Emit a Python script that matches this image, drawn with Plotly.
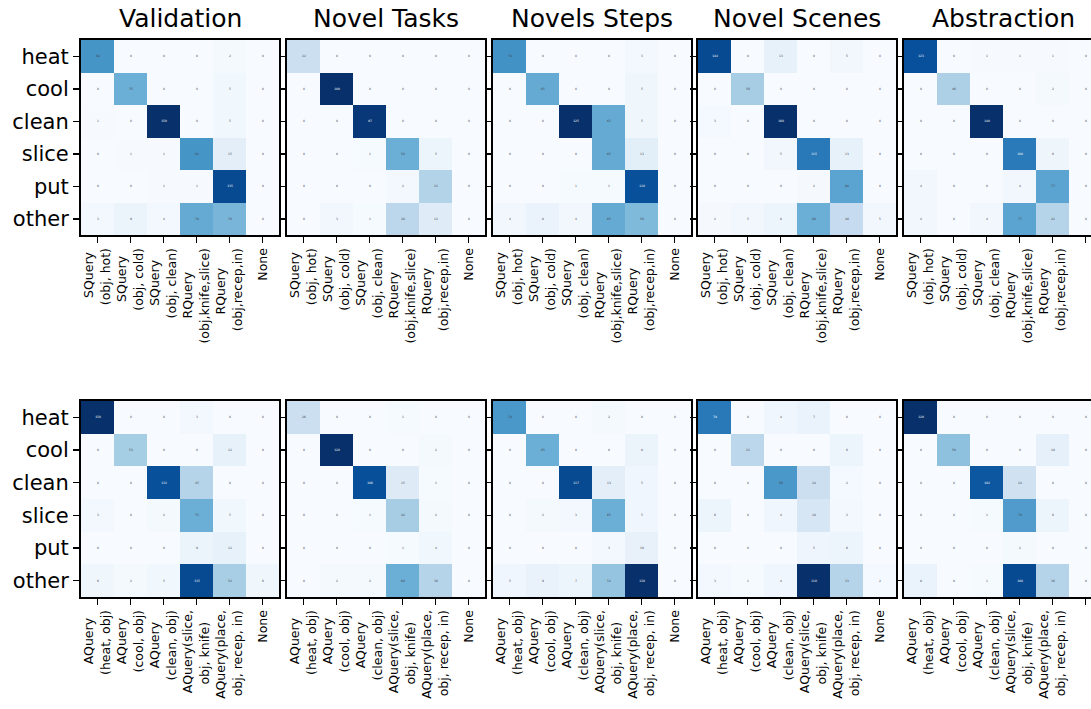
import plotly.graph_objects as go

# ---------------- data ----------------
row_labels = ["heat", "cool", "clean", "slice", "put", "other"]
titles = ["Validation", "Novel Tasks", "Novels Steps", "Novel Scenes", "Abstraction"]

# two-line x tick labels: (first line, second line)
top_xlabels = [("SQuery", "(obj, hot)"), ("SQuery", "(obj, cold)"), ("SQuery", "(obj, clean)"),
               ("RQuery", "(obj,knife,slice)"), ("RQuery", "(obj,recep,in)"), ("None", None)]
bot_xlabels = [("AQuery", "(heat, obj)"), ("AQuery", "(cool, obj)"), ("AQuery", "(clean, obj)"),
               ("AQuery(slice,", "obj, knife)"), ("AQuery(place,", "obj, recep, in)"), ("None", None)]

# top row (state queries)
top_validation = [[92, 0, 0, 0, 2, 0], [0, 75, 0, 0, 5, 0], [1, 0, 150, 0, 5, 0],
                  [0, 1, 1, 92, 15, 0], [0, 0, 1, 1, 135, 0], [3, 9, 4, 78, 70, 0]]
top_novel_tasks = [[22, 0, 0, 0, 0, 0], [0, 100, 0, 0, 0, 0], [0, 0, 97, 0, 0, 0],
                   [0, 0, 1, 50, 5, 0], [0, 0, 0, 2, 31, 0], [0, 3, 1, 28, 12, 0]]
top_novel_steps = [[78, 0, 0, 0, 3, 0], [0, 65, 0, 0, 5, 0], [0, 0, 125, 65, 5, 0],
                   [0, 0, 0, 65, 13, 0], [0, 0, 1, 1, 110, 0], [4, 8, 4, 65, 56, 0]]
top_novel_scenes = [[144, 0, 13, 0, 5, 0], [0, 56, 0, 0, 0, 0], [3, 0, 160, 0, 0, 0],
                    [0, 0, 5, 115, 13, 0], [0, 0, 0, 2, 88, 0], [2, 5, 8, 80, 40, 5]]
top_abstraction = [[123, 0, 1, 1, 1, 0], [0, 46, 0, 0, 2, 0], [0, 0, 140, 0, 0, 0],
                   [0, 0, 0, 100, 6, 0], [4, 0, 0, 4, 77, 0], [4, 0, 4, 77, 42, 0]]

# bottom row (action queries)
bot_validation = [[150, 0, 0, 3, 0, 0], [0, 53, 0, 0, 12, 0], [0, 0, 132, 45, 0, 0],
                  [3, 0, 2, 75, 5, 0], [0, 0, 0, 9, 12, 0], [6, 2, 5, 135, 52, 6]]
bot_novel_tasks = [[26, 0, 0, 1, 0, 0], [0, 120, 0, 0, 2, 0], [0, 0, 106, 15, 1, 0],
                   [0, 0, 1, 42, 2, 0], [0, 0, 0, 1, 4, 0], [0, 2, 2, 60, 36, 0]]
bot_novel_steps = [[78, 0, 0, 2, 0, 0], [0, 65, 0, 0, 8, 0], [0, 0, 117, 13, 5, 0],
                   [0, 2, 3, 65, 5, 0], [0, 0, 0, 3, 10, 0], [5, 9, 7, 52, 130, 0]]
bot_novel_scenes = [[79, 0, 4, 7, 0, 0], [0, 31, 0, 0, 6, 0], [0, 0, 66, 24, 2, 0],
                    [6, 0, 4, 18, 3, 0], [0, 0, 0, 5, 6, 0], [3, 1, 4, 110, 33, 2]]
bot_abstraction = [[120, 0, 0, 0, 0, 0], [0, 50, 0, 0, 10, 0], [0, 0, 102, 24, 0, 0],
                   [0, 0, 1, 70, 6, 0], [0, 0, 0, 2, 0, 0], [8, 0, 1, 108, 36, 0]]

top_mats = [top_validation, top_novel_tasks, top_novel_steps, top_novel_scenes, top_abstraction]
bot_mats = [bot_validation, bot_novel_tasks, bot_novel_steps, bot_novel_scenes, bot_abstraction]

# matplotlib "Blues"
blues = ["#f7fbff", "#deebf7", "#c6dbef", "#9ecae1", "#6baed6",
         "#4292c6", "#2171b5", "#08519c", "#08306b"]
colorscale = [[i / (len(blues) - 1), c] for i, c in enumerate(blues)]

# ---------------- centre-align the two lines of rotated labels ----------------
# approximate DejaVu Sans advance widths (em)
_w = {'S': .635, 'Q': .787, 'u': .634, 'e': .615, 'r': .411, 'y': .592, 'R': .695, 'A': .684,
      '(': .39, ')': .39, 'o': .612, 'b': .635, 'j': .278, ',': .318, ' ': .318, 'h': .634,
      't': .392, 'c': .55, 'l': .278, 'd': .635, 'a': .613, 'n': .634, 'k': .579, 'i': .278,
      'f': .352, 's': .521, 'p': .635, 'N': .748}


def _width(s):
    return sum(_w.get(ch, .6) for ch in s)


def make_label(pair):
    a, b = pair
    if b is None:
        return a
    wa, wb = _width(a), _width(b)
    npad = int(round(abs(wa - wb) / 2 / .318))
    pad = "\u00a0" * npad
    if wa < wb:
        a = a + pad
    else:
        b = b + pad
    return a + "<br>" + b


# ---------------- layout geometry ----------------
W, H = 1091, 709
FONT = "DejaVu Sans"
panel_left = [81, 287, 493, 698, 904]
panel_w = 198
rows_px = [(40, 235), (401, 597)]
cell = panel_w / 6.0

fig = go.Figure()
layout = dict(width=W, height=H, autosize=False, margin=dict(l=0, r=0, t=0, b=0),
              paper_bgcolor="white", plot_bgcolor="white",
              font=dict(family=FONT, color="black"), showlegend=False)

idx = 0
for r, (mats, xl) in enumerate([(top_mats, top_xlabels), (bot_mats, bot_xlabels)]):
    y0px, y1px = rows_px[r]
    ticktext = [make_label(p) for p in xl]
    for c in range(5):
        idx += 1
        sfx = "" if idx == 1 else str(idx)
        z = mats[c]
        zmax = max(max(row) for row in z)
        fig.add_trace(go.Heatmap(
            z=z, x=list(range(6)), y=list(range(6)),
            colorscale=colorscale, zmin=0, zmax=zmax, showscale=False,
            texttemplate="%{z}", textfont=dict(size=3),
            xaxis="x" + sfx, yaxis="y" + sfx, hoverinfo="skip"))
        left = panel_left[c]
        right = min(left + panel_w, W)
        xr_hi = -0.5 + (right - left) / cell
        layout["xaxis" + sfx] = dict(
            domain=[left / W, right / W], anchor="y" + sfx,
            range=[-0.5, xr_hi], tickmode="array", tickvals=list(range(6)),
            ticktext=ticktext, tickangle=-90, tickfont=dict(size=12.5, family=FONT),
            ticks="outside", ticklen=6, tickwidth=1.5, tickcolor="black",
            showline=True, linecolor="black", linewidth=2, mirror=True,
            showgrid=False, zeroline=False, fixedrange=True)
        layout["yaxis" + sfx] = dict(
            domain=[1 - y1px / H, 1 - y0px / H], anchor="x" + sfx,
            range=[5.5, -0.5], tickmode="array", tickvals=list(range(6)),
            ticktext=row_labels if c == 0 else [""] * 6,
            tickfont=dict(size=21, family=FONT),
            ticks="outside", ticklen=6, tickwidth=1.5, tickcolor="black",
            showline=True, linecolor="black", linewidth=2,
            mirror=(c != 4),
            showgrid=False, zeroline=False, fixedrange=True)

annotations = []
for c, t in enumerate(titles):
    cx = (panel_left[c] + panel_w / 2) / W
    annotations.append(dict(text=t, x=cx, y=1 - 19 / H, xref="paper", yref="paper",
                            xanchor="center", yanchor="middle", showarrow=False,
                            font=dict(size=25, family=FONT, color="black")))
layout["annotations"] = annotations

fig.update_layout(**layout)
fig.write_html("out.html", config={"displayModeBar": False, "staticPlot": True},
               post_script="document.body.style.margin='0';document.body.style.overflow='hidden';")
